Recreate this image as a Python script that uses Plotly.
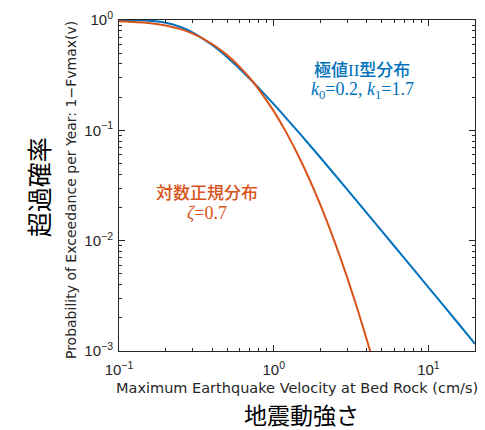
import plotly.graph_objects as go

# Data (velocity in cm/s, annual exceedance probability)
v_frechet = [0.1, 0.15, 0.2, 0.25, 0.3, 0.4, 0.5, 0.6, 0.7, 0.8, 1.0, 1.2, 1.5, 2.0, 3.0, 5.0, 7.0, 10.0, 15.0, 20.0]
p_frechet = [1.0, 0.9915, 0.946, 0.865, 0.770, 0.593, 0.460, 0.364, 0.2936, 0.242, 0.173, 0.1298, 0.0908, 0.0567, 0.0289, 0.0122, 0.00692, 0.00377, 0.0019, 0.00116]

v_lognorm = [0.1, 0.15, 0.2, 0.25, 0.3, 0.4, 0.5, 0.6, 0.7, 0.8, 1.0, 1.2, 1.5, 2.0, 2.5, 3.0, 3.5, 4.0, 4.2, 4.5]
p_lognorm = [0.975, 0.945, 0.893, 0.826, 0.7518, 0.6062, 0.4804, 0.3783, 0.2981, 0.2355, 0.1493, 0.0968, 0.0527, 0.0212, 0.00941, 0.00454, 0.00233, 0.00126, 0.00100, 0.000716]

x_tickvals = [0.1, 1, 10]
x_ticktext = ["10<sup>\u22121</sup>", "10<sup>0</sup>", "10<sup>1</sup>"]
y_tickvals = [0.001, 0.01, 0.1, 1]
y_ticktext = ["10<sup>\u22123</sup>", "10<sup>\u22122</sup>", "10<sup>\u22121</sup>", "10<sup>0</sup>"]

BLUE = "#0072BD"
RED = "#D95319"
AX = "#262626"

W, H = 485, 430
L, R, T, B = 119, 476, 14, 351

def px(x):
    return (x - L) / (R - L)

def py(y):
    return (B - y) / (B - T)

fig = go.Figure()
fig.add_trace(go.Scatter(x=v_frechet, y=p_frechet, mode="lines",
                         line=dict(color=BLUE, width=2, shape="spline", smoothing=0.6),
                         showlegend=False, hoverinfo="skip"))
fig.add_trace(go.Scatter(x=v_lognorm, y=p_lognorm, mode="lines",
                         line=dict(color=RED, width=2, shape="spline", smoothing=0.6),
                         showlegend=False, hoverinfo="skip"))

axis_common = dict(
    type="log", showgrid=False, zeroline=False,
    showline=True, linecolor=AX, linewidth=1, mirror="ticks",
    ticks="inside", ticklen=6, tickcolor=AX, tickwidth=1,
    tickfont=dict(family="Liberation Sans", size=15, color=AX),
    minor=dict(ticks="inside", ticklen=3, tickcolor=AX, tickwidth=1, dtick="D1", showgrid=False),
)

fig.update_xaxes(range=[-1, 1.30103], tickmode="array", tickvals=x_tickvals,
                 ticktext=x_ticktext, ticklabelstandoff=5, **axis_common)
fig.update_yaxes(range=[-3, 0], tickmode="array", tickvals=y_tickvals,
                 ticktext=y_ticktext, ticklabelstandoff=2, **axis_common)

ann = []
ann.append(dict(text="Maximum Earthquake Velocity at Bed Rock (cm/s)", x=px(297), y=py(389),
                xref="paper", yref="paper", showarrow=False, xanchor="center", yanchor="middle",
                font=dict(family="DejaVu Sans", size=14.5, color=AX)))
ann.append(dict(text="地震動強さ", x=px(302), y=py(415),
                xref="paper", yref="paper", showarrow=False, xanchor="center", yanchor="middle",
                font=dict(family="Noto Sans CJK JP", size=23, color="#000000")))
ann.append(dict(text="Probability of Exceedance per Year: 1\u2212Fvmax(v)", x=px(71), y=py(187),
                xref="paper", yref="paper", showarrow=False, xanchor="center", yanchor="middle",
                textangle=-90, font=dict(family="DejaVu Sans", size=14, color=AX)))
ann.append(dict(text="超過確率", x=px(38), y=py(184),
                xref="paper", yref="paper", showarrow=False, xanchor="center", yanchor="middle",
                textangle=-90, font=dict(family="Noto Sans CJK JP", size=25, color="#000000")))
ann.append(dict(text="極値<span style='font-family:Liberation Serif'>II</span>型分布", x=px(363), y=py(63),
                xref="paper", yref="paper", showarrow=False, xanchor="center", yanchor="middle",
                font=dict(family="Noto Sans CJK JP", size=17, color=BLUE, weight=500)))
ann.append(dict(text="<i>k</i><sub>0</sub>=0.2, <i>k</i><sub>1</sub>=1.7", x=px(363), y=py(86),
                xref="paper", yref="paper", showarrow=False, xanchor="center", yanchor="middle",
                font=dict(family="Liberation Serif", size=18, color=BLUE)))
ann.append(dict(text="対数正規分布", x=px(207), y=py(189),
                xref="paper", yref="paper", showarrow=False, xanchor="center", yanchor="middle",
                font=dict(family="Noto Sans CJK JP", size=17, color=RED, weight=500)))
ann.append(dict(text="<i>ζ</i>=0.7", x=px(207), y=py(211),
                xref="paper", yref="paper", showarrow=False, xanchor="center", yanchor="middle",
                font=dict(family="Liberation Serif", size=18, color=RED)))

fig.update_layout(
    width=W, height=H,
    margin=dict(l=L, r=W - R, t=T, b=H - B, pad=0),
    paper_bgcolor="white", plot_bgcolor="white",
    annotations=ann,
    showlegend=False,
)

fig.write_html("out.html")
